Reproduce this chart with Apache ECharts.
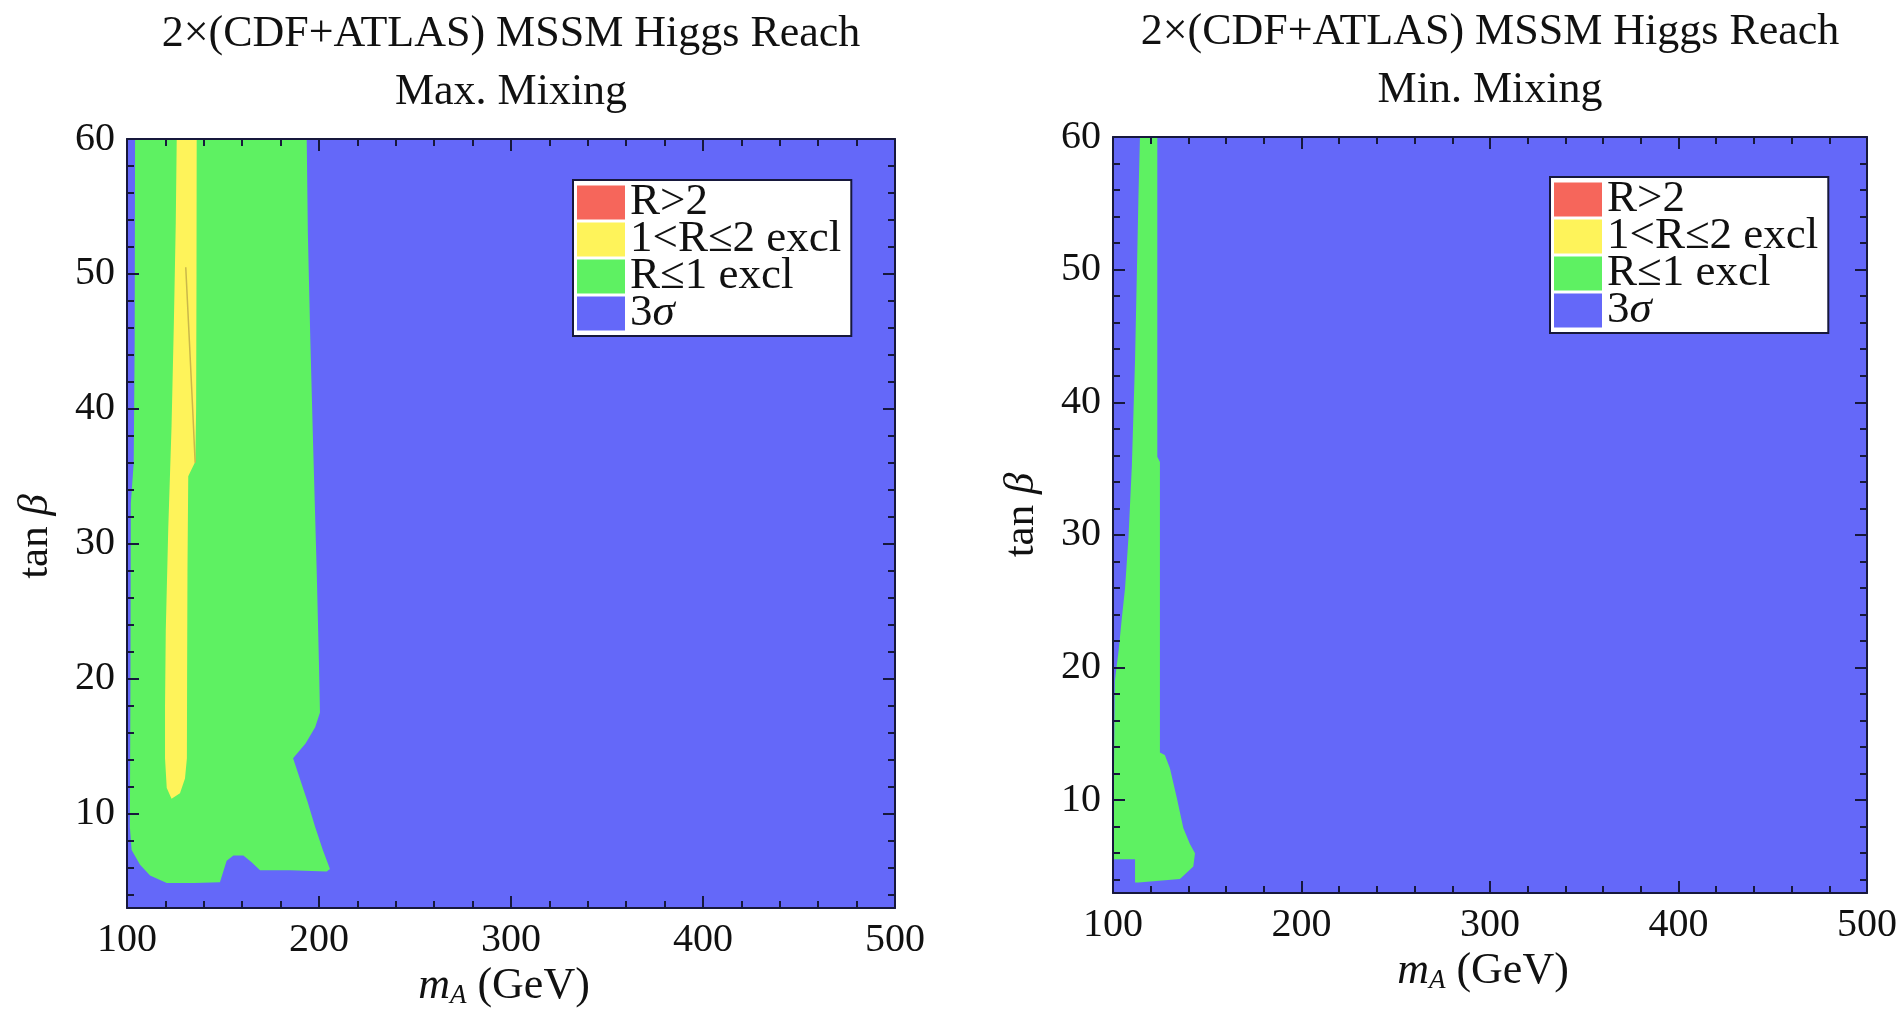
<!DOCTYPE html>
<html><head><meta charset="utf-8">
<script src="https://cdn.jsdelivr.net/npm/echarts@6/dist/echarts.min.js"></script>
<style>html,body{margin:0;padding:0;background:#fff}#c{width:1902px;height:1018px}</style>
</head><body><div id="c"></div>
<script>
// ---- data (mA in GeV, tan beta) ----
const xMin = 100, xMax = 500, xStep = 100;
const yMin = 3, yMax = 60;
const yMajorTicks = [10, 20, 30, 40, 50, 60];
const yMinorTicks = [4, 6, 8, 12, 14, 16, 18, 22, 24, 26, 28, 32, 34, 36, 38, 42, 44, 46, 48, 52, 54, 56, 58];
const legendNames = ['R>2', '1<R≤2 excl', 'R≤1 excl', '3σ'];
const titleLine1 = '2×(CDF+ATLAS) MSSM Higgs Reach';
const panelTitles = ['Max. Mixing', 'Min. Mixing'];

// 3 sigma region covers the whole plane
const sigmaRegion = [[100, 3], [500, 3], [500, 60], [100, 60]];

// Max. mixing: R<=1 excluded region (green)
const maxGreen = [
  [104.2, 60], [193.6, 60], [194.2, 53], [195.5, 45], [197, 37], [198.8, 28], [200, 21], [200.5, 17.5],
  [198, 16.4], [193, 15.2], [186.5, 14.1], [190, 12.6], [194, 10.9], [198, 9.0], [202, 7.3], [205.7, 5.9],
  [204, 5.7], [185, 5.8], [169.3, 5.8], [164.9, 6.4], [160.6, 6.9], [155.4, 6.9], [151.9, 6.5], [148.4, 4.9],
  [135, 4.85], [120.7, 4.85], [112, 5.4], [106.8, 6.2], [102.4, 7.3], [101.5, 9], [101.8, 20], [102, 33],
  [103.5, 36], [104, 45]
];
// Max. mixing: 1<R<=2 excluded region (yellow)
const maxYellow = [
  [125.9, 60], [136.3, 60], [136.2, 50], [136, 40], [135.6, 36.1], [131.9, 35], [131.5, 28], [131.3, 20],
  [131.2, 14.1], [130.2, 12.6], [127.6, 11.5], [123.2, 11.1], [120.7, 11.9], [119.8, 14.1], [119.8, 18],
  [120.2, 23.6], [121.5, 31.2], [123.2, 38.7], [124.4, 46.3], [125.4, 53.8]
];
// Max. mixing: thin contour inside yellow band
const maxYellowContour = [[130.6, 50.5], [132.5, 45], [134.2, 40], [135.5, 36]];

// Min. mixing: R<=1 excluded region (green)
const minGreen = [
  [114.3, 60], [123.5, 60], [123.5, 45], [123.5, 35.9], [124.9, 35.5], [124.9, 25], [124.9, 13.6],
  [127.5, 13.4], [130.2, 12.4], [133.8, 10.2], [137.3, 7.9], [140.8, 6.7], [143.5, 6.0], [142.6, 5.0],
  [135.5, 4.05], [113.5, 3.8], [111.7, 3.8], [111.7, 5.55], [100.5, 5.55], [100.5, 12], [101, 19],
  [103, 21.3], [104.6, 23.6], [106.4, 26], [108.2, 29.8], [110, 35.2], [111.7, 43.2], [113.5, 55.5]
];

// ---- styling ----
const FONT = 'Liberation Serif';
const FRAME = '#17183c';
const C_RED = '#F6665B', C_YEL = '#FEF35A', C_GRN = '#5EF162', C_BLU = '#6468F9';

const grids = [
  {left: 127, top: 139, width: 768, height: 769},
  {left: 1113, top: 137, width: 754, height: 756}
];

function polySeries(name, pts, color, gi) {
  return {
    type: 'custom', name: name, xAxisIndex: gi * 2, yAxisIndex: gi * 4,
    clip: true, silent: true, data: pts, z: 2,
    itemStyle: {color: color},
    renderItem: function (params, api) {
      if (params.dataIndex !== 0) return null;
      return {
        type: 'polygon',
        shape: {points: pts.map(function (p) { return api.coord(p); })},
        style: {fill: color}
      };
    }
  };
}

const xAxes = [], yAxes = [], series = [], legends = [], titles = [];
grids.forEach(function (g, gi) {
  const tickStyle = {color: FRAME, width: 2};
  xAxes.push({
    gridIndex: gi, type: 'value', position: 'bottom', min: xMin, max: xMax, interval: xStep, z: 10,
    axisLine: {show: true, onZero: false, lineStyle: {color: FRAME, width: 2}},
    axisTick: {show: true, inside: true, length: 12, lineStyle: tickStyle},
    minorTick: {show: true, splitNumber: 5, length: 7, lineStyle: tickStyle},
    splitLine: {show: false},
    axisLabel: {fontFamily: FONT, fontSize: 40, color: '#111', margin: 12},
    name: '{m|m}{s|A}{n| (GeV)}', nameLocation: 'middle', nameGap: 45,
    nameTextStyle: {fontFamily: FONT, color: '#111', padding: [0, 14, 0, 0], rich: {
      m: {fontFamily: FONT, fontSize: 44, fontStyle: 'italic', color: '#111', lineHeight: 46},
      s: {fontFamily: FONT, fontSize: 27, fontStyle: 'italic', color: '#111', verticalAlign: 'bottom', lineHeight: 26},
      n: {fontFamily: FONT, fontSize: 44, color: '#111', lineHeight: 46}
    }}
  });
  xAxes.push({
    gridIndex: gi, type: 'value', position: 'top', min: xMin, max: xMax, interval: xStep, z: 10,
    axisLine: {show: true, onZero: false, lineStyle: {color: FRAME, width: 2}},
    axisTick: {show: true, inside: true, length: 12, lineStyle: tickStyle},
    minorTick: {show: true, splitNumber: 5, length: 7, lineStyle: tickStyle},
    splitLine: {show: false}, axisLabel: {show: false}
  });
  ['left', 'right'].forEach(function (pos) {
    yAxes.push({
      gridIndex: gi, type: 'value', position: pos, min: yMin, max: yMax, z: 10,
      axisLine: {show: true, onZero: false, lineStyle: {color: FRAME, width: 2}},
      axisTick: {show: true, inside: true, length: 12, lineStyle: tickStyle, customValues: yMajorTicks},
      splitLine: {show: false},
      axisLabel: pos === 'left'
        ? {show: true, customValues: yMajorTicks, fontFamily: FONT, fontSize: 40, color: '#111', margin: 12}
        : {show: false},
      name: pos === 'left' ? '{n|tan }{b|β}' : '',
      nameLocation: 'middle', nameGap: 70, nameRotate: 90,
      nameTextStyle: {fontFamily: FONT, color: '#111', padding: gi === 0 ? [0, 26, 0, 0] : [0, 0, 0, 0], rich: {
        n: {fontFamily: FONT, fontSize: 43, color: '#111'},
        b: {fontFamily: FONT, fontSize: 43, fontStyle: 'italic', color: '#111'}
      }}
    });
    yAxes.push({
      gridIndex: gi, type: 'value', position: pos, min: yMin, max: yMax, z: 10,
      axisLine: {show: false, onZero: false},
      axisTick: {show: true, inside: true, length: 7, lineStyle: tickStyle, customValues: yMinorTicks},
      splitLine: {show: false}, axisLabel: {show: false}
    });
  });

  series.push(polySeries('3σ', sigmaRegion, C_BLU, gi));
  series.push(polySeries('R>2', [], C_RED, gi));
  if (gi === 0) {
    series.push(polySeries('R≤1 excl', maxGreen, C_GRN, gi));
    series.push(polySeries('1<R≤2 excl', maxYellow, C_YEL, gi));
    series.push({
      type: 'line', xAxisIndex: 0, yAxisIndex: 0, data: maxYellowContour, showSymbol: false,
      silent: true, lineStyle: {color: '#c9b84a', width: 1.5}, z: 3
    });
  } else {
    series.push(polySeries('R≤1 excl', minGreen, C_GRN, gi));
    series.push(polySeries('1<R≤2 excl', [], C_YEL, gi));
  }

  const cx = g.left + g.width / 2;
  titles.push({
    text: titleLine1 + '\n' + panelTitles[gi], left: cx, top: gi === 0 ? 5 : 3, textAlign: 'center', padding: 0,
    textStyle: {fontFamily: FONT, fontSize: 44, fontWeight: 'normal', color: '#111', lineHeight: 58}
  });
  legends.push({
    data: legendNames, orient: 'vertical',
    left: gi === 0 ? 573 : 1550, top: gi === 0 ? 180 : 177,
    itemGap: -8, itemWidth: 48, itemHeight: 34, icon: 'rect', selectedMode: false,
    backgroundColor: '#ffffff', borderColor: FRAME, borderWidth: 2, borderRadius: 0,
    padding: [0, 10, 0, 4],
    formatter: function (name) { return name === '3σ' ? '{r|3}{i|σ}' : '{r|' + name + '}'; },
    textStyle: {fontFamily: FONT, fontSize: 45, color: '#111',
      rich: {
        r: {fontFamily: FONT, fontSize: 45, color: '#111'},
        i: {fontFamily: FONT, fontSize: 45, fontStyle: 'italic', color: '#111'}
      }}
  });
});

const chart = echarts.init(document.getElementById('c'));
chart.setOption({
  backgroundColor: '#ffffff',
  animation: false,
  title: titles,
  legend: legends,
  grid: grids.map(function (g) { return Object.assign({containLabel: false, outerBoundsMode: 'none'}, g); }),
  xAxis: xAxes,
  yAxis: yAxes,
  series: series
});
</script>
</body></html>
